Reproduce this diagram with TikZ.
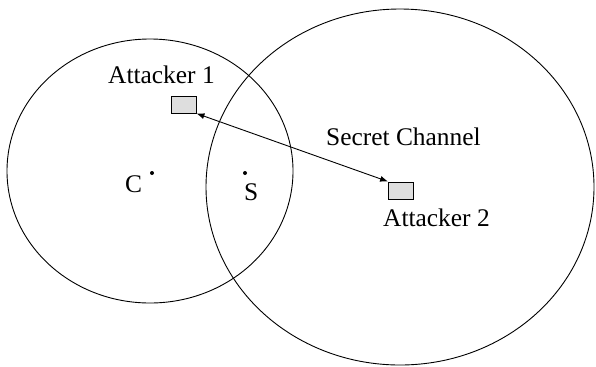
\documentclass[tikz,border=0pt]{standalone}
\usepackage{fontspec}
\setmainfont{Liberation Serif}
\usetikzlibrary{arrows.meta}
\definecolor{boxgray}{RGB}{222,222,222}
\begin{document}
\begin{tikzpicture}[x=1bp,y=-1bp,
  ring/.style={draw=black,line width=0.9bp},
  attbox/.style={draw=black,fill=boxgray,line width=0.9bp,minimum width=25bp,minimum height=17bp,inner sep=0pt},
  lbl/.style={anchor=base west,inner sep=0pt,font=\fontsize{25.5}{30}\selectfont},
  dotc/.style={circle,fill=black,inner sep=0pt,minimum size=4bp},
  link/.style={line width=0.9bp,{Latex[length=8bp,width=6bp]}-{Latex[length=8bp,width=6bp]}}]
\useasboundingbox (0,0) rectangle (596,366);
\draw[ring] (150,171) ellipse [x radius=143, y radius=132];
\draw[ring] (400,187) ellipse [x radius=194, y radius=178];
\node[attbox] (b1) at (183.5,104.5) {};
\node[attbox] (b2) at (401,190.5) {};
\node[lbl] (t1) at (108,83) {Attacker 1};
\node[lbl] (t2) at (383,226) {Attacker 2};
\node[lbl] (sc) at (326,145) {Secret Channel};
\node[dotc] (c) at (152,173) {};
\node[dotc] (s) at (245,173) {};
\node[lbl] (cl) at (125,192) {C};
\node[lbl] (sl) at (244,200) {S};
\draw[link] (b1.south east) -- (b2.north west);
\end{tikzpicture}
\end{document}
